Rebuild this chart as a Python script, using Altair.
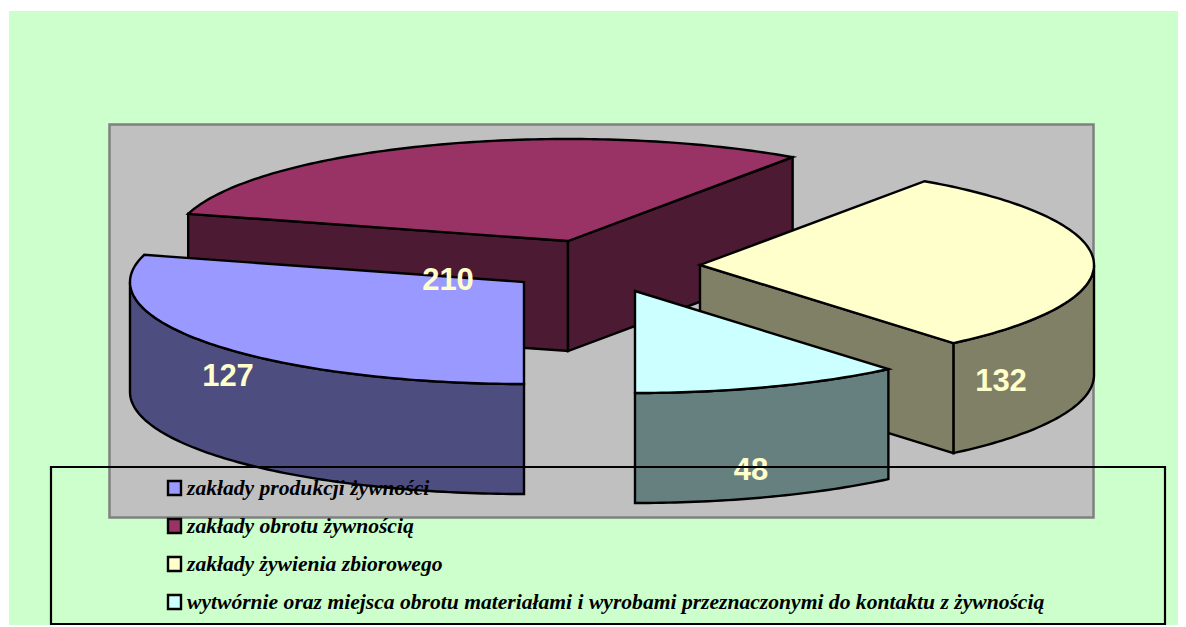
import math
import altair as alt

# ---- data ----
categories = [
    "zakłady produkcji żywności",
    "zakłady obrotu żywnością",
    "zakłady żywienia zbiorowego",
    "wytwórnie oraz miejsca obrotu materiałami i wyrobami przeznaczonymi do kontaktu z żywnością",
]
values = [127, 210, 132, 48]
top_colors = ["#9999FF", "#993366", "#FFFFCC", "#CCFFFF"]
side_colors = ["#4D4D80", "#4D1A33", "#808066", "#668080"]

# ---- page geometry (screen pixels minus the 8px page margin) ----
W, H = 1170, 617
OFF = 8
RX, RY, DEPTH = 394, 102, 110
apexes = [(524, 282), (568, 241), (700, 265), (635, 291)]   # exploded wedge tips
view_shift = [0, 17, -19.9, -6.6, 0]                         # perspective skew of the edges
label_pos = [(228, 377), (448, 281), (1001, 382), (751, 471)]

total = sum(values)
edges = [180.0]
for v in values:
    edges.append(edges[-1] + v / total * 360)
edges = [e + s for e, s in zip(edges, view_shift)]


def pt(apex, t, dy=0):
    r = math.radians(t)
    return (apex[0] + RX * math.sin(r) - OFF, apex[1] - RY * math.cos(r) + dy - OFF)


def arc(apex, a, b, dy=0):
    n = max(2, int(abs(b - a)) + 1)
    return [pt(apex, a + (b - a) * i / n, dy) for i in range(n + 1)]


def shape(points, fill):
    pts = [list(p) for p in points]
    pts.append(pts[0])
    return {"type": "Feature",
            "geometry": {"type": "Polygon", "coordinates": [pts]},
            "properties": {"fill": fill}}


def strip(apex, a, b, fill):
    return shape(arc(apex, a, b) + arc(apex, b, a, DEPTH), fill)


def cut(apex, t, fill):
    ax, ay = apex[0] - OFF, apex[1] - OFF
    p = pt(apex, t)
    return shape([(ax, ay), p, (p[0], p[1] + DEPTH), (ax, ay + DEPTH)], fill)


def top(i):
    a = apexes[i]
    return shape([(a[0] - OFF, a[1] - OFF)] + arc(a, edges[i], edges[i + 1]), top_colors[i])


features = [
    # back wedge
    cut(apexes[1], edges[1], side_colors[1]),
    cut(apexes[1], edges[2], side_colors[1]),
    top(1),
    # right wedge
    strip(apexes[2], 450, edges[3], side_colors[2]),
    cut(apexes[2], edges[3], side_colors[2]),
    top(2),
    # front small wedge
    strip(apexes[3], edges[3], edges[4], side_colors[3]),
    top(3),
    # left wedge
    strip(apexes[0], edges[0], 270, side_colors[0]),
    top(0),
]

pies = alt.Chart(alt.InlineData(values=features)).mark_geoshape(
    stroke="black", strokeWidth=2.4, strokeJoin="miter"
).encode(
    fill=alt.Fill("properties.fill:N", scale=None)
).project(type="identity", scale=1, translate=[0, 0])


def rect_layer(x, y, x2, y2, **kw):
    return alt.Chart(alt.Data(values=[{"x": x - OFF, "y": y - OFF, "x2": x2 - OFF, "y2": y2 - OFF}])).mark_rect(**kw).encode(
        x=alt.X("x:Q", scale=None, axis=None),
        x2="x2:Q",
        y=alt.Y("y:Q", scale=None, axis=None),
        y2="y2:Q",
    )


bg = rect_layer(9, 11, 1190, 640, fill="#CCFFCC")
plot_area = rect_layer(109.5, 124.5, 1093.5, 517.5, fill="#C0C0C0", stroke="#808080", strokeWidth=2.5)
frame = rect_layer(51, 467, 1165, 624, fill=None, filled=False, stroke="black", strokeWidth=2.2)

labels = alt.Chart(alt.Data(values=[
    {"t": str(v), "x": p[0] - OFF, "y": p[1] - OFF} for v, p in zip(values, label_pos)
])).mark_text(font="Liberation Sans", fontWeight="bold", fontSize=31, fill="#FFFFCC", baseline="middle", align="center").encode(
    x=alt.X("x:Q", scale=None, axis=None), y=alt.Y("y:Q", scale=None, axis=None), text="t:N"
)

legend_rows = [{"t": c, "fill": f, "row": i} for i, (c, f) in enumerate(zip(categories, top_colors))]
for r in legend_rows:
    r["x"] = 187 - OFF
    r["y"] = 488.5 + 38 * r["row"] - OFF
    r["sx"] = 168 - OFF
    r["sx2"] = 181 - OFF
    r["sy"] = r["y"] - 7.5
    r["sy2"] = r["y"] + 6.5

swatches = alt.Chart(alt.Data(values=legend_rows)).mark_rect(stroke="black", strokeWidth=2.4).encode(
    x=alt.X("sx:Q", scale=None, axis=None), x2="sx2:Q",
    y=alt.Y("sy:Q", scale=None, axis=None), y2="sy2:Q",
    fill=alt.Fill("fill:N", scale=None),
)
legend_text = alt.Chart(alt.Data(values=legend_rows)).mark_text(
    font="Liberation Serif", fontStyle="italic", fontWeight="bold", fontSize=21.6,
    align="left", baseline="middle", fill="black"
).encode(
    x=alt.X("x:Q", scale=None, axis=None), y=alt.Y("y:Q", scale=None, axis=None), text="t:N"
)

chart = alt.layer(bg, plot_area, pies, labels, frame, swatches, legend_text).properties(
    width=W, height=H, padding=0, background="white",
    autosize=alt.AutoSizeParams(type="none"),
).configure_view(stroke=None)

chart.save("out.html", embed_options={"renderer": "svg", "actions": False})
